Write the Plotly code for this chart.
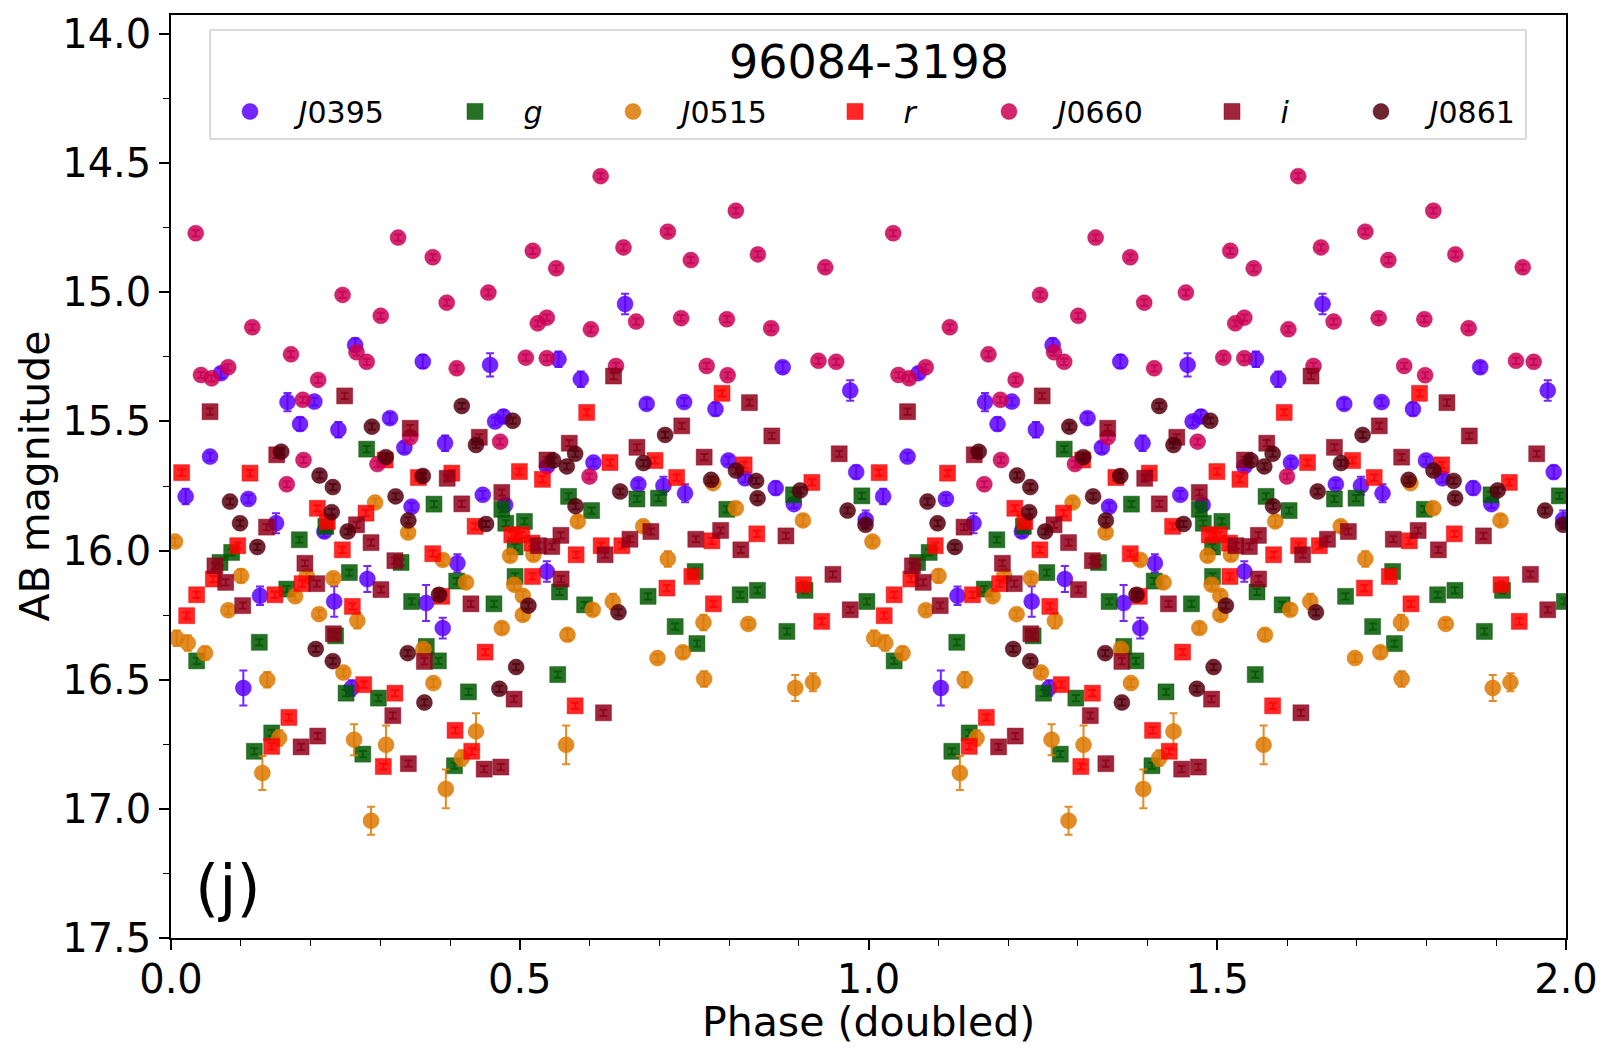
import plotly.graph_objects as go

# ---------------- data (one cycle; the chart shows it doubled) ----------------
j0395_phase = [0.021, 0.056, 0.0717, 0.111, 0.1276, 0.1506, 0.1037, 0.167, 0.185, 0.2055, 0.2199, 0.234, 0.240,
               0.259, 0.264, 0.2815, 0.314, 0.3346, 0.345, 0.361, 0.3657, 0.3896, 0.3929, 0.4106, 0.447, 0.4575,
               0.4647, 0.4766, 0.479, 0.5388, 0.539, 0.5555, 0.5875, 0.6057, 0.651, 0.670, 0.682, 0.706, 0.7357,
               0.737, 0.7806, 0.7993, 0.823, 0.867, 0.877, 0.893, 0.9738, 0.9824, 0.996]
j0395_mag = [15.79, 15.636, 15.313, 15.80, 16.175, 15.894, 16.532, 15.425, 15.510, 15.423, 15.926, 16.197, 15.532,
             16.532, 15.204, 16.11, 15.487, 15.601, 15.83, 15.268, 16.203, 16.30, 15.584, 16.049, 15.784, 15.281,
             15.50, 15.481, 15.823, 16.081, 15.674, 15.259, 15.336, 15.659, 15.045, 15.743, 15.432, 15.749, 15.425,
             15.778, 15.452, 15.651, 15.72, 15.758, 15.290, 15.82, 15.380, 15.696, 15.88]
j0395_err = [0.03, 0.015, 0.02, 0.015, 0.036, 0.039, 0.068, 0.035, 0.025, 0.015, 0.02, 0.059, 0.03,
             0.03, 0.025, 0.05, 0.02, 0.02, 0.015, 0.025, 0.07, 0.04, 0.03, 0.035, 0.015, 0.045,
             0.015, 0.025, 0.015, 0.04, 0.015, 0.03, 0.03, 0.015, 0.04, 0.015, 0.02, 0.035, 0.015,
             0.035, 0.025, 0.015, 0.015, 0.025, 0.02, 0.015, 0.04, 0.025, 0.035]

g_phase = [0.0368, 0.0703, 0.087, 0.1195, 0.1266, 0.1444, 0.166, 0.184, 0.222, 0.236, 0.251, 0.2557, 0.275, 0.2806,
           0.2973, 0.3298, 0.345, 0.366, 0.377, 0.3834, 0.4064, 0.4096, 0.4265, 0.463, 0.4743, 0.480, 0.4933,
           0.4933, 0.5067, 0.5545, 0.557, 0.570, 0.593, 0.603, 0.668, 0.684, 0.699, 0.7228, 0.7515, 0.754,
           0.7969, 0.816, 0.8408, 0.883, 0.8925, 0.909, 0.9905, 0.9977]
g_mag = [16.427, 16.046, 16.007, 16.777, 16.355, 16.706, 16.149, 15.958, 15.906, 16.330, 16.552, 16.085, 16.788, 15.607,
         16.571, 16.046, 16.197, 16.371, 15.82, 16.427, 16.833, 16.118, 16.547, 16.206, 15.84, 15.894, 15.986,
         16.10, 15.887, 16.48, 16.16, 15.79, 16.21, 15.845, 15.80, 16.177, 15.797, 16.294, 16.081, 16.36,
         15.84, 16.171, 16.154, 16.313, 15.784, 16.154, 15.788, 16.197]

j0515_phase = [0.0057, 0.0081, 0.024, 0.0488, 0.0822, 0.1004, 0.131, 0.138, 0.155, 0.178, 0.1946, 0.2123, 0.2328,
               0.2472, 0.2625, 0.2672, 0.2868, 0.2926, 0.3083, 0.340, 0.3619, 0.3762, 0.3896, 0.394, 0.4169,
               0.423, 0.4373, 0.4743, 0.4862, 0.492, 0.5044, 0.5044, 0.5196, 0.5665, 0.5684, 0.5832, 0.6046,
               0.6334, 0.677, 0.6975, 0.7123, 0.7338, 0.7634, 0.7644, 0.777, 0.8098, 0.8277, 0.895, 0.906, 0.9203]
j0515_mag = [15.965, 16.339, 16.358, 16.397, 16.231, 16.098, 16.861, 16.50, 16.726, 16.177, 16.098, 16.246, 16.107,
             16.472, 16.732, 16.272, 17.046, 15.814, 16.752, 15.93, 16.381, 16.513, 16.036, 16.923, 16.803,
             16.123, 16.70, 16.30, 16.02, 16.132, 16.175, 16.249, 16.016, 16.752, 16.326, 15.887, 16.229,
             16.197, 15.906, 16.416, 16.032, 16.394, 16.278, 16.497, 15.739, 15.836, 16.284, 16.532, 15.883, 16.51]
j0515_err = [0.015, 0.03, 0.03, 0.025, 0.015, 0.025, 0.066, 0.03, 0.03, 0.015, 0.015, 0.015, 0.015,
             0.015, 0.06, 0.03, 0.054, 0.015, 0.075, 0.015, 0.015, 0.015, 0.02, 0.075, 0.03,
             0.02, 0.07, 0.02, 0.02, 0.02, 0.02, 0.02, 0.02, 0.075, 0.02, 0.02, 0.02,
             0.03, 0.02, 0.015, 0.03, 0.02, 0.03, 0.03, 0.015, 0.02, 0.015, 0.05, 0.02, 0.035]

r_phase = [0.0153, 0.0225, 0.0368, 0.0607, 0.0957, 0.1133, 0.1444, 0.149, 0.169, 0.188, 0.2098, 0.2242, 0.2457, 0.26,
           0.2763, 0.2796, 0.3044, 0.307, 0.321, 0.3547, 0.3753, 0.3882, 0.4026, 0.4073, 0.4312, 0.436, 0.4503,
           0.4886, 0.4995, 0.503, 0.5176, 0.5182, 0.5325, 0.5794, 0.5808, 0.596, 0.6167, 0.6294, 0.6464, 0.694,
           0.711, 0.725, 0.7467, 0.7754, 0.7777, 0.790, 0.8217, 0.8399, 0.9068, 0.9188, 0.933]
r_mag = [15.698, 16.252, 16.171, 16.110, 15.981, 15.700, 16.758, 16.171, 16.646, 16.128, 15.836, 15.887, 15.997, 16.216,
         16.519, 15.855, 16.836, 15.649, 16.552, 15.717, 16.012, 16.177, 15.70, 16.696, 16.777, 15.906, 16.393,
         15.939, 15.694, 15.939, 15.971, 16.10, 15.724, 16.601, 16.016, 15.465, 15.981, 15.659, 15.981, 15.651,
         16.145, 15.717, 16.10, 15.962, 16.206, 15.391, 15.668, 15.935, 16.132, 15.736, 16.274]

j0660_phase = [0.0354, 0.043, 0.0583, 0.082, 0.1166, 0.166, 0.172, 0.189, 0.190, 0.211, 0.246, 0.266, 0.2806, 0.296,
               0.3007, 0.3256, 0.343, 0.3753, 0.3953, 0.4096, 0.455, 0.4719, 0.5087, 0.5187, 0.5258, 0.5388,
               0.5388, 0.5523, 0.600, 0.602, 0.616, 0.638, 0.6487, 0.6669, 0.7123, 0.7314, 0.7453, 0.768,
               0.7969, 0.798, 0.8098, 0.8414, 0.8604, 0.9283, 0.938, 0.9537]
j0660_mag = [14.771, 15.320, 15.333, 15.290, 15.135, 15.743, 15.240, 15.416, 15.649, 15.339, 15.010, 15.232, 15.269, 15.665,
             15.091, 14.788, 15.561, 14.864, 15.040, 15.294, 15.001, 15.578, 15.253, 14.839, 15.120, 15.098,
             15.255, 14.907, 15.713, 15.143, 14.55, 15.285, 14.826, 15.113, 14.765, 15.100, 14.875, 15.285,
             15.104, 15.321, 14.684, 14.853, 15.139, 15.265, 14.903, 15.269]

i_phase = [0.056, 0.063, 0.0784, 0.1028, 0.137, 0.1516, 0.1865, 0.192, 0.209, 0.2104, 0.2328, 0.249, 0.266, 0.2868,
           0.301, 0.318, 0.321, 0.3403, 0.343, 0.3633, 0.396, 0.4169, 0.430, 0.442, 0.449, 0.4729, 0.4743, 0.4919,
           0.5268, 0.539, 0.546, 0.559, 0.5593, 0.571, 0.620, 0.6224, 0.6345, 0.658, 0.668, 0.688, 0.7323,
           0.7524, 0.7644, 0.788, 0.817, 0.8293, 0.8614, 0.8816, 0.949, 0.958, 0.9738]
i_mag = [15.462, 16.059, 16.123, 16.213, 15.909, 15.629, 16.760, 16.049, 16.128, 16.718, 16.322, 15.401, 15.90, 15.969,
         16.151, 16.639, 16.039, 16.825, 15.526, 16.429, 15.72, 15.819, 16.206, 15.561, 16.846, 16.838, 15.775, 16.575,
         15.981, 15.649, 15.984, 15.941, 16.11, 15.584, 16.628, 16.016, 15.324, 15.956, 15.60, 15.926, 15.517,
         15.956, 15.638, 15.922, 15.997, 15.427, 15.556, 15.943, 16.092, 15.625, 16.229]

j0861_phase = [0.0846, 0.099, 0.1238, 0.158, 0.2075, 0.213, 0.2304, 0.232, 0.232, 0.2533, 0.288, 0.308, 0.322, 0.3394,
               0.3403, 0.361, 0.3633, 0.3843, 0.4169, 0.4373, 0.4517, 0.4708, 0.490, 0.4948, 0.5124, 0.548, 0.5675,
               0.5794, 0.580, 0.6415, 0.644, 0.6774, 0.7084, 0.7744, 0.810, 0.8389, 0.841, 0.902, 0.97, 0.9957]
j0861_mag = [15.81, 15.894, 15.986, 15.617, 16.381, 15.709, 15.851, 15.754, 16.428, 15.926, 15.52, 15.638, 15.79, 16.397,
             15.883, 15.711, 16.588, 16.171, 15.440, 15.591, 15.897, 16.535, 15.497, 16.451, 16.213, 15.651, 15.674,
             15.625, 15.828, 16.239, 15.771, 15.661, 15.552, 15.726, 15.69, 15.730, 15.797, 15.767, 15.845, 15.90]

small_err = 0.012

legend_labels = ["<i>J</i>0395", "<i>g</i>", "<i>J</i>0515", "<i>r</i>", "<i>J</i>0660", "<i>i</i>", "<i>J</i>0861"]
title_text = "96084-3198"
x_title = "Phase (doubled)"
y_title = "AB magnitude"

series = [
    (j0395_phase, j0395_mag, j0395_err, "circle", (90, 0, 255)),
    (g_phase, g_mag, None, "square", (0, 88, 0)),
    (j0515_phase, j0515_mag, j0515_err, "circle", (220, 120, 0)),
    (r_phase, r_mag, None, "square", (255, 0, 0)),
    (j0660_phase, j0660_mag, None, "circle", (202, 0, 85)),
    (i_phase, i_mag, None, "square", (143, 0, 26)),
    (j0861_phase, j0861_mag, None, "circle", (85, 0, 14)),
]

font_family = "DejaVu Sans"
# legend symbol centres, in pixels of the figure
legend_symbol_px = [249, 474, 632, 854, 1008, 1231, 1380]
plot_left, plot_w = 171, 1395

fig = go.Figure()
layout_legends = {}
for k, ((ph, mag, err, sym, rgb), label) in enumerate(zip(series, legend_labels)):
    if err is None:
        err = [small_err] * len(ph)
    x = list(ph) + [p + 1 for p in ph]
    y = list(mag) + list(mag)
    e = list(err) + list(err)
    col = "rgba(%d,%d,%d,0.85)" % rgb
    lname = "legend" if k == 0 else "legend%d" % (k + 1)
    fig.add_trace(go.Scatter(
        x=x, y=y, mode="markers", name="&nbsp;&nbsp;&nbsp;" + label, legend=lname,
        marker=dict(symbol=sym, size=16, color=col,
                    line=dict(width=1, color="rgba(%d,%d,%d,0.45)" % rgb)),
        error_y=dict(type="data", array=e, visible=True, color=col, thickness=2, width=4),
    ))
    layout_legends[lname] = dict(
        orientation="h", x=(legend_symbol_px[k] - 19 - plot_left) / plot_w, y=0.9236,
        xanchor="left", yanchor="top", font=dict(size=30, family=font_family),
        bgcolor="rgba(0,0,0,0)", itemsizing="trace")

fig.update_layout(
    width=1615, height=1058,
    margin=dict(l=171, r=49, t=15, b=120, autoexpand=False),
    paper_bgcolor="white", plot_bgcolor="white",
    font=dict(family=font_family, color="black"),
    showlegend=True,
    xaxis=dict(range=[0, 2.0], tickvals=[0, 0.5, 1.0, 1.5, 2.0], ticktext=["0.0", "0.5", "1.0", "1.5", "2.0"],
               ticks="outside", ticklen=10, tickwidth=1.5, tickcolor="black", ticklabelstandoff=-5,
               minor=dict(dtick=0.1, ticks="outside", ticklen=6, tickwidth=1.2, tickcolor="black"),
               showline=True, linewidth=1.5, linecolor="black", mirror=True, showgrid=False, zeroline=False,
               tickfont=dict(size=40)),
    yaxis=dict(range=[17.5, 13.926], tickvals=[14.0, 14.5, 15.0, 15.5, 16.0, 16.5, 17.0, 17.5],
               ticktext=["14.0", "14.5", "15.0", "15.5", "16.0", "16.5", "17.0", "17.5"],
               ticks="outside", ticklen=10, tickwidth=1.5, tickcolor="black",
               minor=dict(tickvals=[14.25, 14.75, 15.25, 15.75, 16.25, 16.75, 17.25], ticks="outside",
                          ticklen=6, tickwidth=1.2, tickcolor="black"),
               showline=True, linewidth=1.5, linecolor="black", mirror=True, showgrid=False, zeroline=False,
               tickfont=dict(size=40)),
    shapes=[dict(type="rect", xref="paper", yref="paper", x0=0.028, x1=0.9713, y0=0.8657, y1=0.9837,
                 line=dict(color="#d0d0d0", width=1.5), fillcolor="rgba(255,255,255,0.8)", layer="above")],
    annotations=[
        dict(text=title_text, xref="paper", yref="paper", x=0.5, y=0.949, showarrow=False,
             font=dict(size=46, family=font_family), xanchor="center", yanchor="middle"),
        dict(text="(j)", xref="paper", yref="paper", x=0.016, y=0.055, showarrow=False,
             font=dict(size=62, family=font_family), xanchor="left", yanchor="middle"),
        dict(text=x_title, xref="paper", yref="paper", x=0.5, y=-0.0915, showarrow=False,
             font=dict(size=41, family=font_family), xanchor="center", yanchor="middle"),
        dict(text=y_title, xref="paper", yref="paper", x=-0.0982, y=0.5, showarrow=False, textangle=-90,
             font=dict(size=41, family=font_family), xanchor="center", yanchor="middle"),
    ],
    **layout_legends,
)

fig.write_html("out.html")
